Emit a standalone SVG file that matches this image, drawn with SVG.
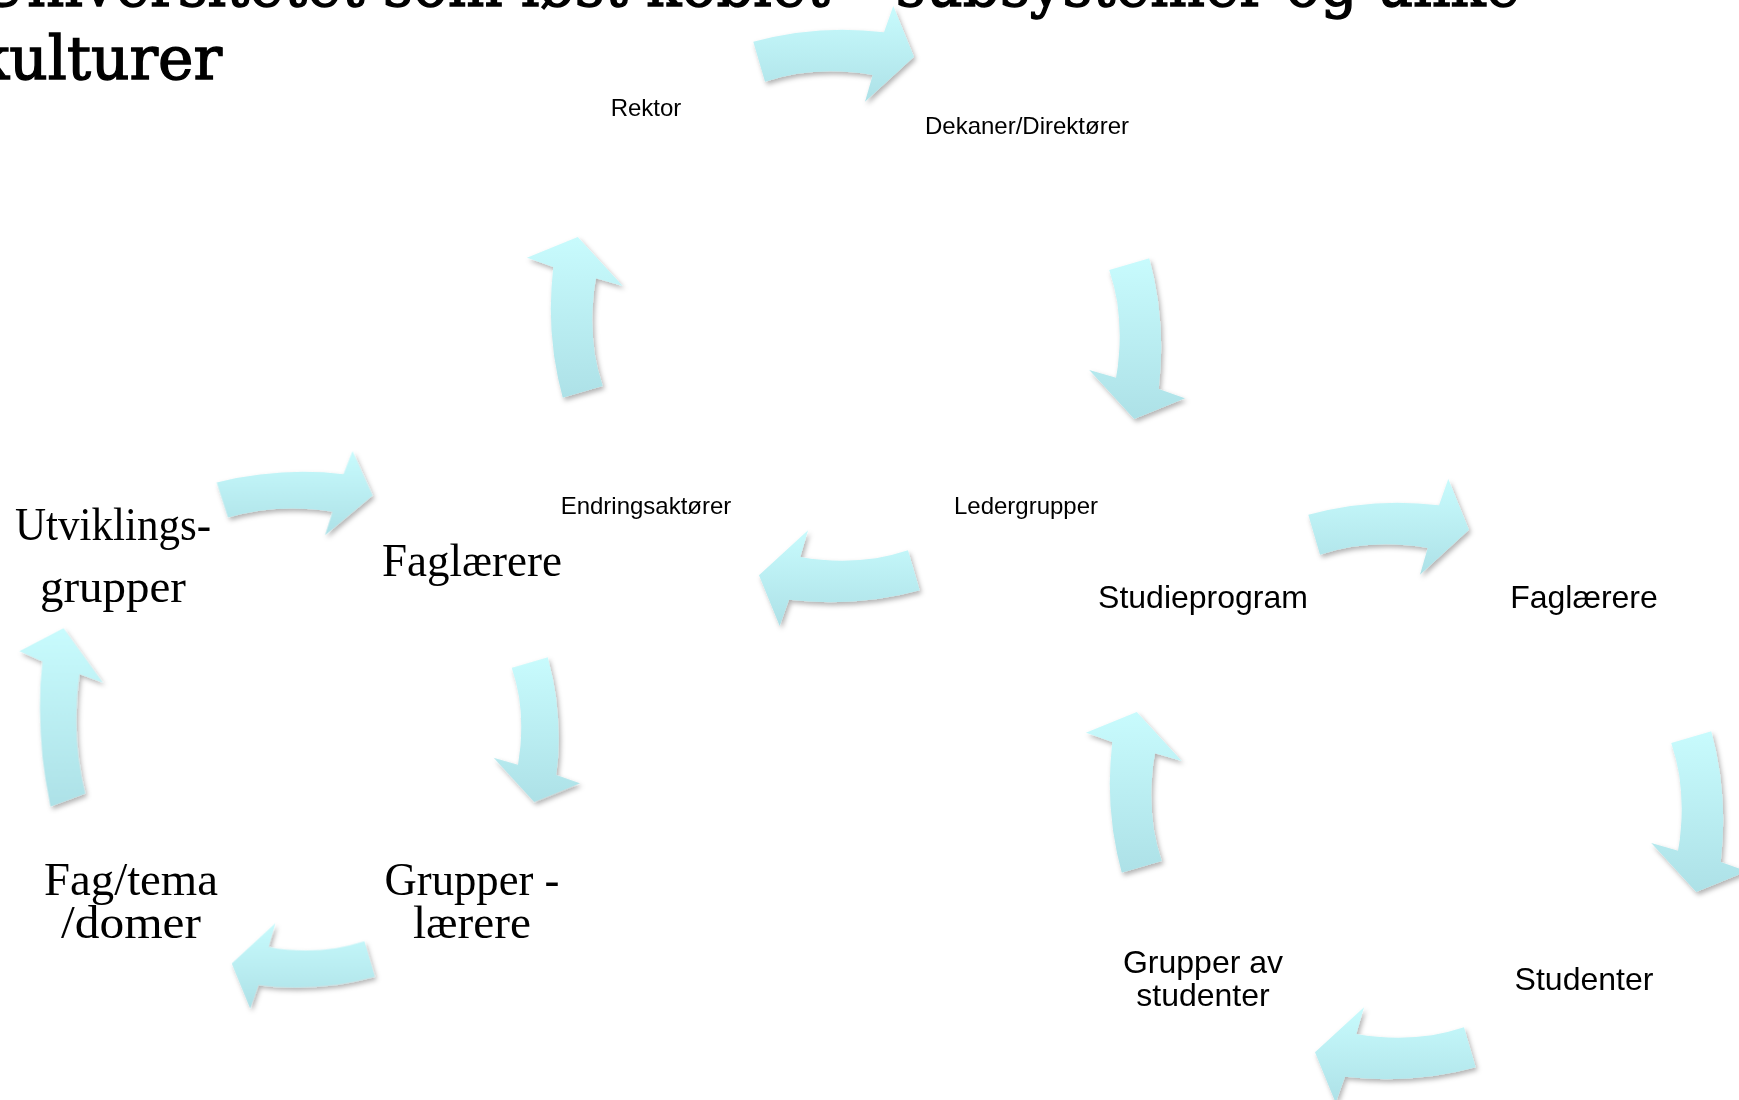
<svg xmlns="http://www.w3.org/2000/svg" xmlns:xlink="http://www.w3.org/1999/xlink" width="1739" height="1100" viewBox="0 0 1739 1100">
<defs>
<style>
.title{font-family:"DejaVu Serif","Liberation Serif",serif;font-size:60px;fill:#000;stroke:#000;stroke-width:1.4px}
.s{font-family:"Liberation Sans",Arial,sans-serif;font-size:24px;fill:#000;text-anchor:middle}
.m{font-family:"Liberation Sans",Arial,sans-serif;font-size:32px;fill:#000;text-anchor:middle}
.serif{font-family:"Liberation Serif","Times New Roman",serif;font-size:47px;fill:#000;text-anchor:middle}
</style>
<path id="arr" d="M -80.7 -14.3 Q -15 -32 50 -23.7 L 59.3 -50 L 80 0.7 L 31 45.7 L 38.7 19 Q -18.8 9 -69 25.7 Z"/>
<linearGradient id="g0" x1="0" y1="0" x2="0" y2="1"><stop offset="0" stop-color="#c8fbfd"/><stop offset="1" stop-color="#ade1e7"/></linearGradient>
<linearGradient id="g90" x1="0" y1="0" x2="1" y2="0"><stop offset="0" stop-color="#c8fbfd"/><stop offset="1" stop-color="#ade1e7"/></linearGradient>
<linearGradient id="g180" x1="0" y1="1" x2="0" y2="0"><stop offset="0" stop-color="#c8fbfd"/><stop offset="1" stop-color="#ade1e7"/></linearGradient>
<linearGradient id="g270" x1="1" y1="0" x2="0" y2="0"><stop offset="0" stop-color="#c8fbfd"/><stop offset="1" stop-color="#ade1e7"/></linearGradient>
<filter id="sh" x="-10%" y="-10%" width="120%" height="120%">
<feDropShadow dx="2" dy="3" stdDeviation="2.5" flood-color="#000" flood-opacity="0.3"/>
</filter>
</defs>
<rect width="1739" height="1100" fill="#fff"/>
<g id="title">
<text class="title" x="-22" y="6" textLength="1542" lengthAdjust="spacingAndGlyphs">Universitetet som løst koblet – subsystemer og ulike</text>
<text class="title" x="-27" y="79" textLength="249" lengthAdjust="spacingAndGlyphs">kulturer</text>
</g>
<g id="connectors" filter="url(#sh)">
<use xlink:href="#arr" href="#arr" fill="url(#g0)" transform="translate(834,56)"/>
<use xlink:href="#arr" href="#arr" fill="url(#g90)" transform="translate(1135,339) rotate(90)"/>
<use xlink:href="#arr" href="#arr" fill="url(#g180)" transform="translate(839,576) rotate(180)"/>
<use xlink:href="#arr" href="#arr" fill="url(#g270)" transform="translate(577,317) rotate(270)"/>
<use xlink:href="#arr" href="#arr" fill="url(#g0)" transform="translate(1389,529)"/>
<use xlink:href="#arr" href="#arr" fill="url(#g90)" transform="translate(1697,812) rotate(90)"/>
<use xlink:href="#arr" href="#arr" fill="url(#g180)" transform="translate(1395,1053) rotate(180)"/>
<use xlink:href="#arr" href="#arr" fill="url(#g270)" transform="translate(1136,792) rotate(270)"/>
<use xlink:href="#arr" href="#arr" fill="url(#g0)" transform="translate(295,495) scale(0.97,0.88)"/>
<use xlink:href="#arr" href="#arr" fill="url(#g90)" transform="translate(535,730) scale(0.9,0.9) rotate(90)"/>
<use xlink:href="#arr" href="#arr" fill="url(#g180)" transform="translate(303,964) scale(0.89,0.89) rotate(180)"/>
<use xlink:href="#arr" href="#arr" fill="url(#g270)" transform="translate(63,717) scale(0.87,1.11) rotate(270)"/>
</g>
<g id="node-rektor"><text class="s" x="646" y="116">Rektor</text></g>
<g id="node-dekaner"><text class="s" x="1027" y="134">Dekaner/Direktører</text></g>
<g id="node-ledergrupper"><text class="s" x="1026" y="514">Ledergrupper</text></g>
<g id="node-endringsaktorer"><text class="s" x="646" y="514">Endringsaktører</text></g>
<g id="node-studieprogram"><text class="m" x="1203" y="608">Studieprogram</text></g>
<g id="node-faglaerere-r"><text class="m" x="1584" y="608">Faglærere</text></g>
<g id="node-studenter"><text class="m" x="1584" y="990">Studenter</text></g>
<g id="node-grupper-studenter"><text class="m" x="1203" y="973">Grupper av</text><text class="m" x="1203" y="1006">studenter</text></g>
<g id="node-utviklingsgrupper"><text class="serif" x="113" y="540" textLength="196" lengthAdjust="spacingAndGlyphs">Utviklings-</text><text class="serif" x="113" y="602" textLength="146" lengthAdjust="spacingAndGlyphs">grupper</text></g>
<g id="node-faglaerere-l"><text class="serif" x="472" y="576" textLength="180" lengthAdjust="spacingAndGlyphs">Faglærere</text></g>
<g id="node-grupper-laerere"><text class="serif" x="472" y="895" textLength="175" lengthAdjust="spacingAndGlyphs">Grupper -</text><text class="serif" x="472" y="938" textLength="118" lengthAdjust="spacingAndGlyphs">lærere</text></g>
<g id="node-fagtema"><text class="serif" x="131" y="895" textLength="174" lengthAdjust="spacingAndGlyphs">Fag/tema</text><text class="serif" x="131" y="938" textLength="140" lengthAdjust="spacingAndGlyphs">/domer</text></g>
</svg>
